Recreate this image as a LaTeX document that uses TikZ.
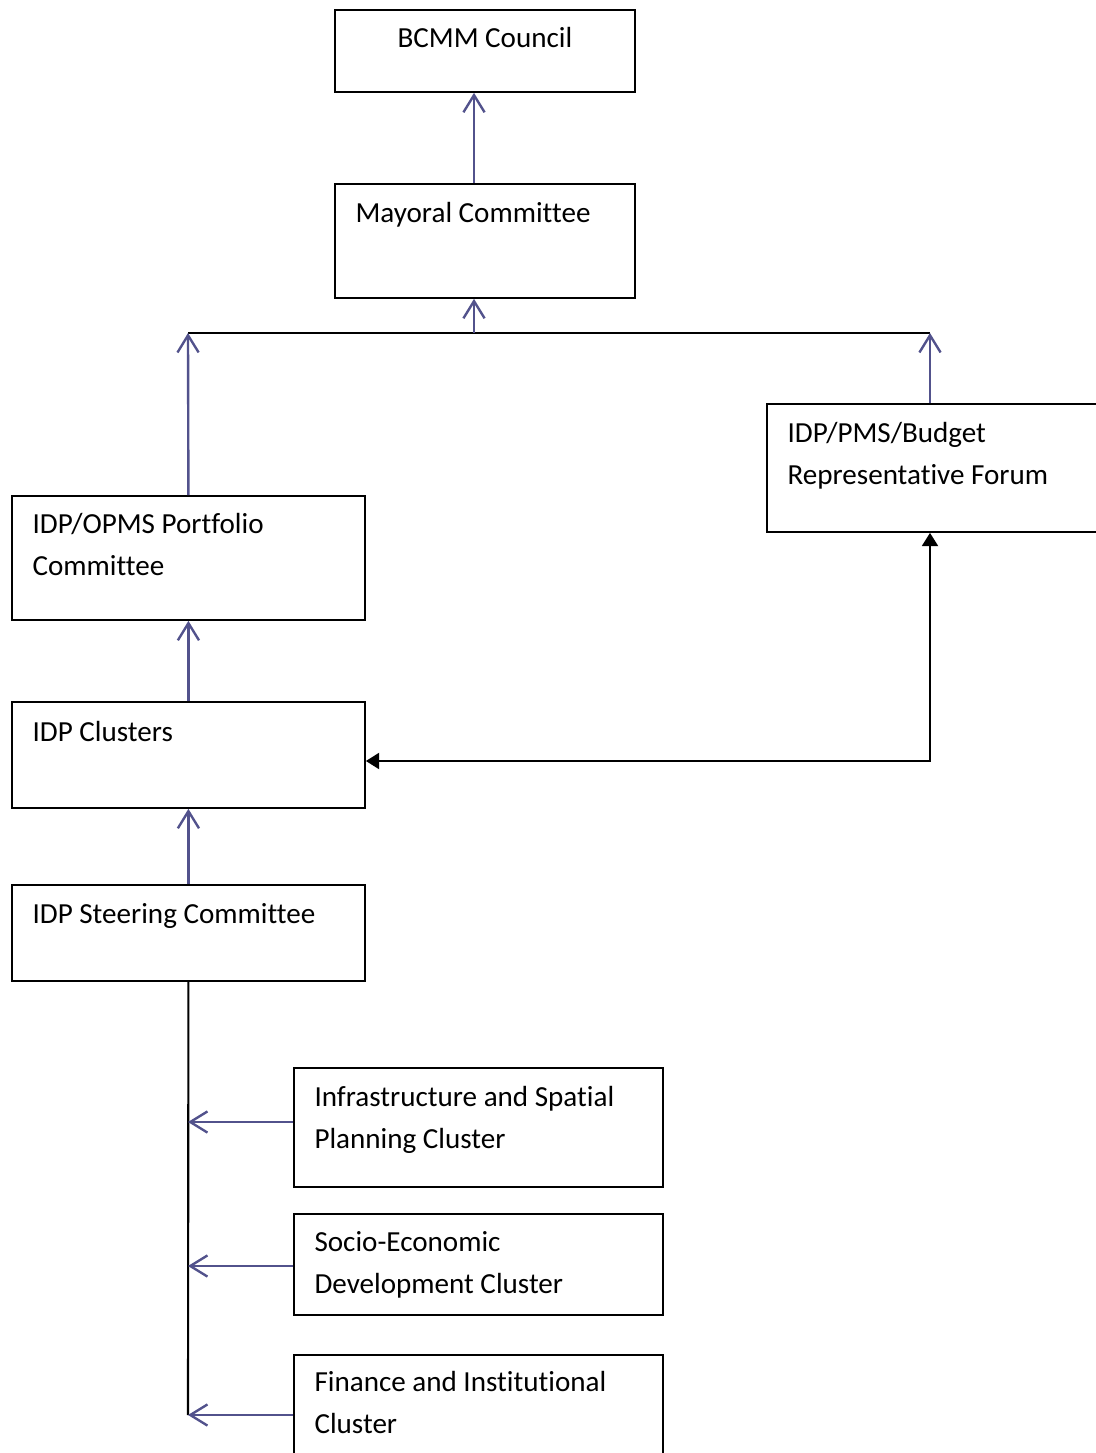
\documentclass[tikz,border=0pt]{standalone}
\usepackage{fontspec}
\setmainfont{Carlito}[Ligatures=NoCommon]
\usetikzlibrary{arrows.meta}
\definecolor{linkblue}{RGB}{82,82,140}
\def\u{0.378pt}

\begin{document}
\begin{tikzpicture}[x=\u, y=-\u,
    box/.style={draw, line width=0.7pt, rectangle, inner sep=0pt, anchor=north west},
    lbl/.style={inner sep=0pt, anchor=base west, align=left, font=\fontsize{11}{15.7}\selectfont},
    up/.style={draw=linkblue, line width=0.9pt, -{Straight Barb[length=6.5pt, width=8pt]}},
    back/.style={line width=0.9pt, {Triangle[length=5pt, width=6pt]}-{Triangle[length=5pt, width=6pt]}}]
  \useasboundingbox (0,0) rectangle (1095,1453);
  % boxes
  \node[box, minimum width=300*\u, minimum height=82*\u] (council) at (334,9) {};
  \node[box, minimum width=300*\u, minimum height=114*\u] (mayoral) at (334,183) {};
  \node[box, minimum width=353*\u, minimum height=124*\u] (portfolio) at (11,495) {};
  \node[box, minimum width=353*\u, minimum height=106*\u] (clusters) at (11,701) {};
  \node[box, minimum width=353*\u, minimum height=96*\u] (steering) at (11,884) {};
  \node[box, minimum width=340*\u, minimum height=128*\u] (forum) at (766,403) {};
  \node[box, minimum width=369*\u, minimum height=119*\u] (infra) at (293,1067) {};
  \node[box, minimum width=369*\u, minimum height=101*\u] (socio) at (293,1213) {};
  \node[box, minimum width=369*\u, minimum height=110*\u] (finance) at (293,1354) {};
  % texts (base of a two-line text is its last line)
  \node[lbl, anchor=base] (councilTxt) at ([shift={(0,39)}]council.north) {BCMM Council};
  \node[lbl] (mayoralTxt) at ([shift={(21,39)}]mayoral.north west) {Mayoral Committee};
  \node[lbl] (portfolioTxt) at ([shift={(21,80.5)}]portfolio.north west) {IDP/OPMS Portfolio\\Committee};
  \node[lbl] (clustersTxt) at ([shift={(21,40)}]clusters.north west) {IDP Clusters};
  \node[lbl] (steeringTxt) at ([shift={(21,39)}]steering.north west) {IDP Steering Committee};
  \node[lbl] (forumTxt) at ([shift={(21,81)}]forum.north west) {IDP/PMS/Budget\\Representative Forum};
  \node[lbl] (infraTxt) at ([shift={(21,81)}]infra.north west) {Infrastructure and Spatial\\Planning Cluster};
  \node[lbl] (socioTxt) at ([shift={(21,80)}]socio.north west) {Socio-Economic\\Development Cluster};
  \node[lbl] (financeTxt) at ([shift={(21,79.5)}]finance.north west) {Finance and Institutional\\Cluster};
  % joins
  \coordinate (busL) at (188,333);
  \coordinate (busM) at (474,333);
  \coordinate (busR) at (930,333);
  \coordinate (turn) at (930,761);
  \coordinate (tail) at (188,1415);
  \draw[line width=0.7pt] (busL) -- (busR);
  \draw[up] (mayoral.north -| busM) -- (council.south -| busM);
  \draw[up] (busM) -- (mayoral.south -| busM);
  \draw[up] (portfolio.north) -- (busL);
  \draw[up] (forum.north -| busR) -- (busR);
  \draw[up] (clusters.north) -- (portfolio.south);
  \draw[up] (steering.north) -- (clusters.south);
  \draw[back] (clusters.east |- turn) -- (turn) -- (forum.south -| turn);
  \draw[line width=0.8pt] (steering.south) -- (tail);
  \foreach \n/\y in {infra/1122, socio/1266, finance/1415}{
    \draw[up] (\n.west |- 0,\y) -- (tail |- 0,\y);
  }
\end{tikzpicture}
\end{document}
